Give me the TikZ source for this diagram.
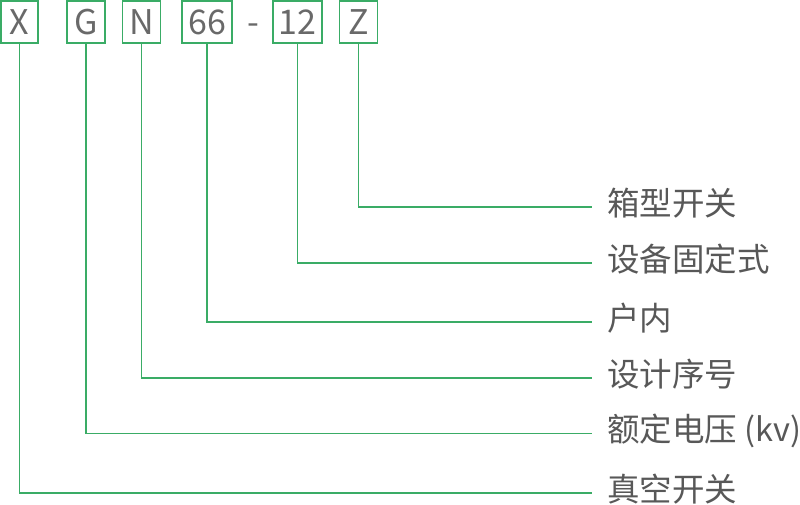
\documentclass[tikz,border=0pt]{standalone}
\usepackage{fontspec}
\setmainfont{Noto Sans CJK SC}
\definecolor{lg}{RGB}{58,172,102}
\definecolor{tg}{RGB}{88,88,88}
\definecolor{bg}{RGB}{105,105,105}
\begin{document}
\begin{tikzpicture}[x=1pt,y=-1pt,
  codebox/.style={draw=lg, line width=1.5pt, minimum height=42pt, inner sep=0pt, text=bg, font=\fontsize{34}{36}\selectfont},
  lab/.style={anchor=west, inner xsep=15pt, inner ysep=0pt, text height=20pt, text depth=4pt, text=tg, font=\fontsize{32.5}{34}\selectfont},
  conn/.style={draw=lg, line width=1.5pt}]
\useasboundingbox (0,0) rectangle (800,505);
\node[codebox, minimum width=37pt] (bx) at (19.5,22) {X};
\node[codebox, minimum width=38pt] (bg) at (86,22) {G};
\node[codebox, minimum width=38pt] (bn) at (141.5,22) {N};
\node[codebox, minimum width=50pt] (b66) at (207,22) {66};
\node[text=bg, inner sep=0pt, anchor=base, text height=24pt, text depth=2pt, font=\fontsize{34}{36}\selectfont] (dash) at (253,35) {-};
\node[codebox, minimum width=49pt] (b12) at (297.5,22) {12};
\node[codebox, minimum width=38pt] (bz) at (358.5,22) {Z};
\node[lab] (lz) at (592,207) {箱型开关};
\node[lab] (l12) at (592,263) {设备固定式};
\node[lab] (l66) at (592,322) {户内};
\node[lab] (ln) at (592,378) {设计序号};
\node[lab] (lg) at (592,433.5) {额定电压 (kv)};
\node[lab] (lx) at (592,493) {真空开关};
\draw[conn] (bz.south) |- (lz.west);
\draw[conn] (b12.south) |- (l12.west);
\draw[conn] (b66.south) |- (l66.west);
\draw[conn] (bn.south) |- (ln.west);
\draw[conn] (bg.south) |- (lg.west);
\draw[conn] (bx.south) |- (lx.west);
\end{tikzpicture}
\end{document}
